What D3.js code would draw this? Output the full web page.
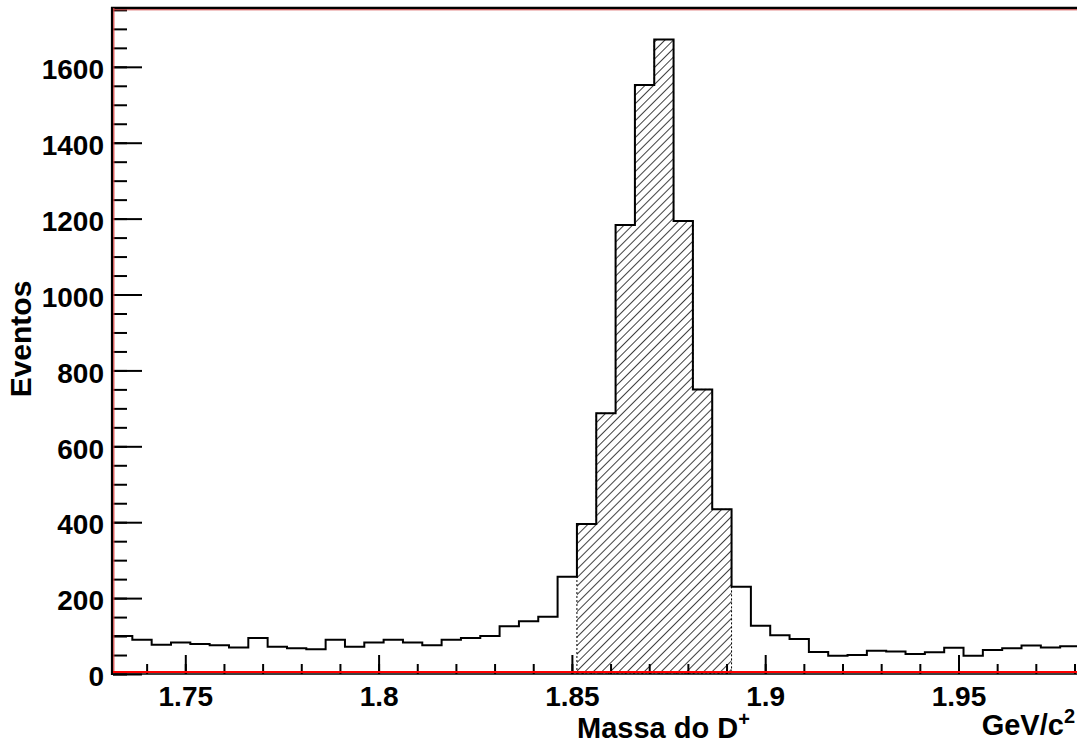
<!DOCTYPE html>
<html>
<head>
<meta charset="utf-8">
<script src="https://cdn.jsdelivr.net/npm/d3@7"></script>
<style>
  body { margin: 0; background: #fff; }
  text { font-family: 'Liberation Sans', Arial, sans-serif; font-weight: bold; fill: #000; }
</style>
</head>
<body>
<div id="chart"></div>
<script>
// histogram of D+ candidate mass, 50 bins of 5 MeV
var xMin = 1.7313;
var binWidth = 0.005;
var counts = [
  100, 90, 77, 83, 79, 76, 70, 95, 72, 68,
  65, 90, 72, 83, 90, 83, 76, 90, 95, 100,
  126, 139, 151, 256, 395, 687, 1183, 1552, 1672, 1194,
  750, 434, 230, 127, 102, 92, 58, 48, 50, 61,
  59, 53, 57, 69, 48, 63, 68, 75, 70, 73
];
// bins inside the signal window (hatched)
var signalFirst = 24;
var signalLast = 31;

var xMajorTicks = [1.75, 1.8, 1.85, 1.9, 1.95];
var xMinorTicks = d3.range(1.74, 1.985, 0.01);
var yMajorTicks = d3.range(0, 1601, 200);
var yMinorTicks = d3.range(0, 1751, 50);

var width = 1077;
var height = 751;
var padLeft = 113, padRight = 1077, padTop = 8, padBottom = 674;

var svg = d3.select('#chart').append('svg')
  .attr('width', width)
  .attr('height', height);

var xScale = d3.scaleLinear()
  .domain([xMin, xMin + 964 / 3866])
  .range([padLeft, padRight]);

var yScale = d3.scaleLinear()
  .domain([0, 1755])
  .range([padBottom, padTop]);

var bins = counts.map(function(c, i) {
  return { x0: xMin + i * binWidth, x1: xMin + (i + 1) * binWidth, n: c };
});

// hatch pattern
var defs = svg.append('defs');
defs.append('pattern')
  .attr('id', 'hatch')
  .attr('patternUnits', 'userSpaceOnUse')
  .attr('width', 6)
  .attr('height', 10)
  .attr('patternTransform', 'rotate(45)')
  .append('line')
  .attr('x1', 0.5).attr('y1', 0)
  .attr('x2', 0.5).attr('y2', 10)
  .attr('stroke', '#000')
  .attr('stroke-width', 0.75);

defs.append('clipPath')
  .attr('id', 'plotClip')
  .append('rect')
  .attr('x', padLeft)
  .attr('y', 0)
  .attr('width', padRight - padLeft)
  .attr('height', padBottom);

function stepPath(list, closed) {
  var p = '';
  list.forEach(function(b, i) {
    var x0 = xScale(b.x0), x1 = xScale(b.x1), y = yScale(b.n);
    if (i === 0) {
      p += closed ? 'M' + x0 + ',' + yScale(0) + 'L' + x0 + ',' + y : 'M' + x0 + ',' + y;
    } else {
      p += 'L' + x0 + ',' + y;
    }
    p += 'L' + x1 + ',' + y;
  });
  if (closed) {
    p += 'L' + xScale(list[list.length - 1].x1) + ',' + yScale(0) + 'Z';
  }
  return p;
}

var plot = svg.append('g').attr('clip-path', 'url(#plotClip)');

// signal window
var signal = bins.slice(signalFirst, signalLast + 1);
plot.append('path')
  .attr('d', stepPath(signal, true))
  .attr('fill', 'url(#hatch)')
  .attr('stroke', '#000')
  .attr('stroke-width', 1)
  .attr('stroke-dasharray', '2,2');

// full histogram
plot.append('path')
  .attr('d', stepPath(bins, false))
  .attr('fill', 'none')
  .attr('stroke', '#000')
  .attr('stroke-width', 2);

// axes, ticks pointing into the frame
var xAxisMinor = d3.axisBottom(xScale)
  .tickValues(xMinorTicks)
  .tickSize(-10)
  .tickFormat('');
var xAxis = d3.axisBottom(xScale)
  .tickValues(xMajorTicks)
  .tickSize(-19)
  .tickPadding(12)
  .tickFormat(function(d) { return String(+d.toFixed(2)); });

var yAxisMinor = d3.axisLeft(yScale)
  .tickValues(yMinorTicks)
  .tickSize(-14)
  .tickFormat('');
var yAxis = d3.axisLeft(yScale)
  .tickValues(yMajorTicks)
  .tickSize(-29)
  .tickPadding(9)
  .tickFormat(d3.format('d'));

[xAxisMinor, xAxis].forEach(function(a) {
  svg.append('g')
    .attr('class', 'axis x')
    .attr('transform', 'translate(0,' + padBottom + ')')
    .call(a);
});
[yAxisMinor, yAxis].forEach(function(a) {
  svg.append('g')
    .attr('class', 'axis y')
    .attr('transform', 'translate(' + padLeft + ',0)')
    .call(a);
});

svg.selectAll('.axis .domain').remove();
svg.selectAll('.axis line')
  .attr('stroke', '#000')
  .attr('stroke-width', 2);
svg.selectAll('.axis text')
  .style('font-size', '28px')
  .style('font-family', "'Liberation Sans', Arial, sans-serif")
  .style('font-weight', 'bold')
  .attr('fill', '#000');
svg.selectAll('.axis.y text')
  .attr('dy', '0.42em');

// frame lines (black with the red axis line next to it)
svg.append('line')
  .attr('x1', padLeft - 2).attr('x2', padRight)
  .attr('y1', padTop).attr('y2', padTop)
  .attr('stroke', '#000').attr('stroke-width', 2.5);
svg.append('line')
  .attr('x1', padLeft).attr('x2', padRight)
  .attr('y1', padTop + 1.8).attr('y2', padTop + 1.8)
  .attr('stroke', '#d04040').attr('stroke-width', 1);
svg.append('line')
  .attr('x1', padLeft - 1).attr('x2', padLeft - 1)
  .attr('y1', padTop - 1).attr('y2', padBottom + 1)
  .attr('stroke', '#000').attr('stroke-width', 2.2);
svg.append('line')
  .attr('x1', padLeft + 0.8).attr('x2', padLeft + 0.8)
  .attr('y1', padTop).attr('y2', padBottom)
  .attr('stroke', '#d04040').attr('stroke-width', 1.2);
svg.append('line')
  .attr('x1', padLeft - 2).attr('x2', padRight)
  .attr('y1', padBottom).attr('y2', padBottom)
  .attr('stroke', '#000').attr('stroke-width', 1.5);
svg.append('line')
  .attr('x1', padLeft).attr('x2', padRight)
  .attr('y1', padBottom - 2).attr('y2', padBottom - 2)
  .attr('stroke', '#ff0000').attr('stroke-width', 2);

// axis titles
var xTitle = svg.append('text')
  .attr('x', 577)
  .attr('y', 738)
  .style('font-size', '29px');
xTitle.append('tspan').text('Massa do D');
xTitle.append('tspan')
  .attr('dy', -12)
  .style('font-size', '20px')
  .text('+');

var unit = svg.append('text')
  .attr('x', 1075)
  .attr('y', 735)
  .attr('text-anchor', 'end')
  .style('font-size', '29px');
unit.append('tspan').text('GeV/c');
unit.append('tspan')
  .attr('dy', -12)
  .style('font-size', '20px')
  .text('2');

svg.append('text')
  .attr('text-anchor', 'middle')
  .attr('transform', 'translate(31,339) rotate(-90)')
  .style('font-size', '30px')
  .text('Eventos');
</script>
</body>
</html>
